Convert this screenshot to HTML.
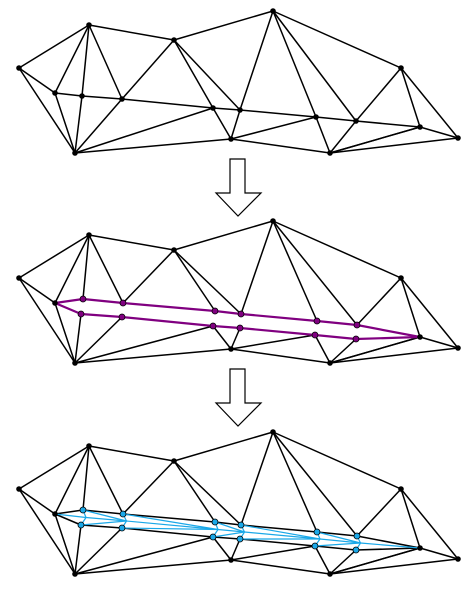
<!DOCTYPE html>
<html><head><meta charset="utf-8"><style>
html,body{margin:0;padding:0;background:#fff;}
svg{display:block;}
</style></head><body>
<svg id="fig" width="475" height="592" viewBox="0 0 475 592" xmlns="http://www.w3.org/2000/svg"></svg>
<script>
// node coordinates for panel 1 (base)
const nodeNames = ["A","B","C","D","E","F","G","H","I","J","K","L","M","N","O","P","Q"];
const nodeX = [19,89,174,273,401,458,420,356,316,240,213,122,82,55,75,231,330];
const nodeY = [68,25,40,11,68,138,127,121,117,110,108,99,96,93,153,139,153];
const outerEdges = [["A","B"],["B","C"],["C","D"],["D","E"],["E","F"],["A","N"],["A","O"],["B","N"],["N","O"],["E","G"],["G","F"],["G","Q"],["F","Q"],["O","P"],["P","Q"]];
const chain = ["M","L","K","J","I","H"];
const aboveEdges = [["B","M"],["B","L"],["C","L"],["C","K"],["C","J"],["D","J"],["D","I"],["D","H"],["E","H"]];
const belowEdges = [["O","M"],["O","L"],["O","K"],["P","K"],["P","J"],["P","I"],["Q","I"],["Q","H"],["Q","G"]];
// split chain: upper and lower y (panel-2 local, relative to panel 1 coordinates)
const upperY = [89,93,101,104,111,115];
const lowerY = [104,107,116,118,125,129];
const upperX = [83,123,215,241,317,357];
const lowerX = [81,122,213,240,315,356];
const panelOffsets = [0,210,421];
const arrowTops = [159,369];

const svg = document.getElementById('fig');
const NS = 'http://www.w3.org/2000/svg';
const idx = n => nodeNames.indexOf(n);
function line(x1,y1,x2,y2,color,w,name){
  const l=document.createElementNS(NS,'line');
  l.setAttribute('x1',x1);l.setAttribute('y1',y1);l.setAttribute('x2',x2);l.setAttribute('y2',y2);
  l.setAttribute('stroke',color);l.setAttribute('stroke-width',w);
  
  
  svg.appendChild(l);
}
function dot(x,y,fill,r,name){
  const c=document.createElementNS(NS,'circle');
  c.setAttribute('cx',x);c.setAttribute('cy',y);c.setAttribute('r',r);c.setAttribute('fill',fill);
  if(fill!=='#000'){c.setAttribute('stroke','#000');c.setAttribute('stroke-width','0.8');}
  
  
  svg.appendChild(c);
}
panelOffsets.forEach((off,p)=>{
  const X=n=>nodeX[idx(n)], Y=n=>nodeY[idx(n)]+off;
  outerEdges.forEach(e=>line(X(e[0]),Y(e[0]),X(e[1]),Y(e[1]),'#000',1.5,'mesh-edge'));
  if(p===0){
    const seq=["N",...chain,"G"];
    for(let i=0;i<seq.length-1;i++) line(X(seq[i]),Y(seq[i]),X(seq[i+1]),Y(seq[i+1]),'#000',1.5,'crease-edge');
    aboveEdges.concat(belowEdges).forEach(e=>line(X(e[0]),Y(e[0]),X(e[1]),Y(e[1]),'#000',1.5,'mesh-edge'));
    nodeNames.forEach(n=>dot(X(n),Y(n),'#000',2.8,'mesh-vertex'));
  } else {
    const ux=i=>upperX[i], uy=i=>upperY[i]+off, lx=i=>lowerX[i], ly=i=>lowerY[i]+off;
    const ci=n=>chain.indexOf(n);
    aboveEdges.forEach(e=>{const i=ci(e[1]);line(X(e[0]),Y(e[0]),ux(i),uy(i),'#000',1.5,'mesh-edge');});
    belowEdges.forEach(e=>{const i=ci(e[1]);if(i<0)line(X(e[0]),Y(e[0]),X(e[1]),Y(e[1]),'#000',1.5,'mesh-edge');else line(X(e[0]),Y(e[0]),lx(i),ly(i),'#000',1.5,'mesh-edge');});
    const col = p===1 ? '#800080' : '#000';
    const w = p===1 ? 2.2 : 1.5;
    let px=X("N"),py=Y("N");
    chain.forEach((c,i)=>{line(px,py,ux(i),uy(i),col,w,'upper-boundary');px=ux(i);py=uy(i);});
    line(px,py,X("G"),Y("G"),col,w,'upper-boundary');
    px=X("N");py=Y("N");
    chain.forEach((c,i)=>{line(px,py,lx(i),ly(i),col,w,'lower-boundary');px=lx(i);py=ly(i);});
    line(px,py,X("G"),Y("G"),col,w,'lower-boundary');
    if(p===2){
      const blue='#1aa8e8';
      let mx=X("N"),my=Y("N");
      chain.forEach((c,i)=>{
        const nx=(ux(i)+lx(i))/2+4, ny=(uy(i)+ly(i))/2;
        line(mx,my,nx,ny,blue,1.2,'refined-edge');
        line(ux(i),uy(i),nx,ny,blue,1.2,'refined-edge');
        line(lx(i),ly(i),nx,ny,blue,1.2,'refined-edge');
        if(i>0){line(ux(i-1),uy(i-1),nx,ny,blue,1.2,'refined-edge');line(lx(i-1),ly(i-1),nx,ny,blue,1.2,'refined-edge');}
        mx=nx;my=ny;
      });
      line(mx,my,X("G"),Y("G"),blue,1.2,'refined-edge');
    }
    const fill = p===1 ? '#800080' : '#1aa8e8';
    ["A","B","C","D","E","F","G","N","O","P","Q"].forEach(n=>dot(X(n),Y(n),'#000',2.8,'mesh-vertex'));
    chain.forEach((c,i)=>{dot(ux(i),uy(i),fill,3,'split-vertex-upper');dot(lx(i),ly(i),fill,3,'split-vertex-lower');});
  }
});
arrowTops.forEach(t=>{
  const pg=document.createElementNS(NS,'polygon');
  pg.setAttribute('points',`230,${t} 245,${t} 245,${t+34} 261,${t+34} 238,${t+57} 216,${t+34} 230,${t+34}`);
  pg.setAttribute('fill','#fff');pg.setAttribute('stroke','#000');pg.setAttribute('stroke-width','1.2');
  
  
  svg.appendChild(pg);
});
</script>
</body></html>
